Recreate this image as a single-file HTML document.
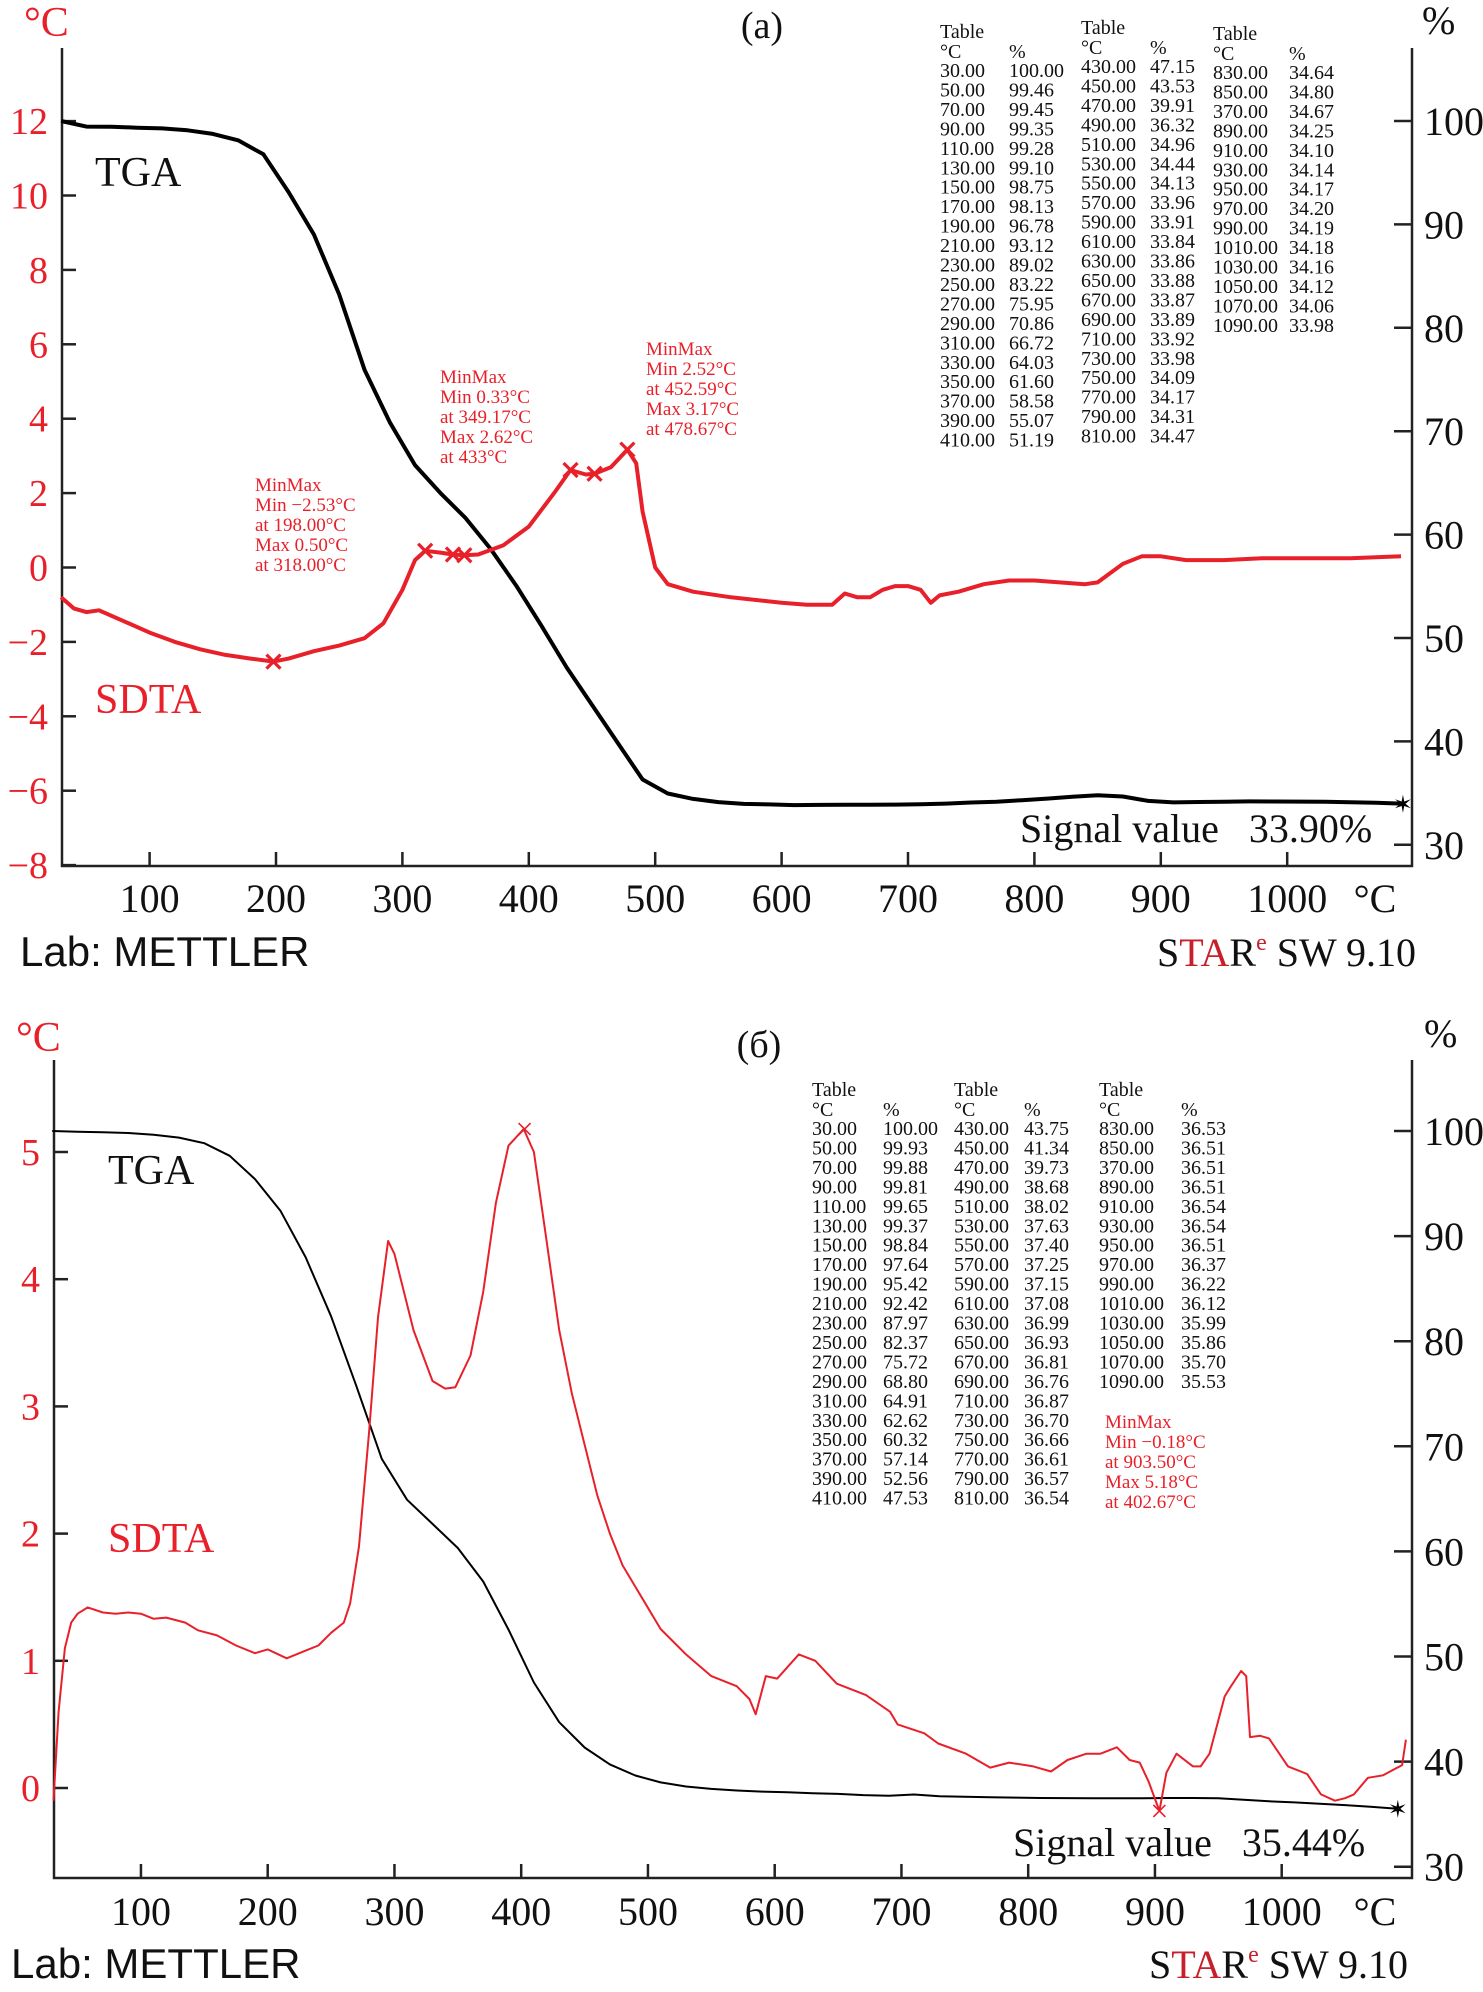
<!DOCTYPE html>
<html><head><meta charset="utf-8"><style>
html,body{margin:0;padding:0;background:#fff;}
svg{display:block;font-family:"Liberation Serif",serif;}
svg text{white-space:pre;}
.tb{font-size:20px;fill:#111;}
.an{font-size:19px;fill:#e8202a;}
</style></head><body>
<svg id="svg" xmlns="http://www.w3.org/2000/svg" width="1483" height="1992" viewBox="0 0 1483 1992">
<g id="gA"></g>
<g id="gB"></g>
</svg>
<script>
// ---------- data: chart (a) ----------
const tgaTempA = [30,50,70,90,110,130,150,170,190,210,230,250,270,290,310,330,350,370,390,410,430,450,470,490,510,530,550,570,590,610,630,650,670,690,710,730,750,770,790,810,830,850,870,890,910,930,950,970,990,1010,1030,1050,1070,1090];
const tgaPctA = [100.00,99.46,99.45,99.35,99.28,99.10,98.75,98.13,96.78,93.12,89.02,83.22,75.95,70.86,66.72,64.03,61.60,58.58,55.07,51.19,47.15,43.53,39.91,36.32,34.96,34.44,34.13,33.96,33.91,33.84,33.86,33.88,33.87,33.89,33.92,33.98,34.09,34.17,34.31,34.47,34.64,34.80,34.67,34.25,34.10,34.14,34.17,34.20,34.19,34.18,34.16,34.12,34.06,33.98];
const tgaLabelA = ["30.00","50.00","70.00","90.00","110.00","130.00","150.00","170.00","190.00","210.00","230.00","250.00","270.00","290.00","310.00","330.00","350.00","370.00","390.00","410.00","430.00","450.00","470.00","490.00","510.00","530.00","550.00","570.00","590.00","610.00","630.00","650.00","670.00","690.00","710.00","730.00","750.00","770.00","790.00","810.00","830.00","850.00","370.00","890.00","910.00","930.00","950.00","970.00","990.00","1010.00","1030.00","1050.00","1070.00","1090.00"];
const sdtaTempA = [30,40,50,60,80,100,120,140,160,180,198,210,230,250,270,285,300,310,318,330,340,349,360,380,400,420,433,445,452,465,478,485,490,500,510,530,560,600,620,640,650,660,670,680,690,700,710,718,725,740,760,780,800,820,840,850,870,885,900,920,950,980,1000,1050,1090];
const sdtaValA = [-0.8,-1.1,-1.2,-1.15,-1.45,-1.75,-2.0,-2.2,-2.35,-2.45,-2.53,-2.45,-2.25,-2.1,-1.9,-1.5,-0.6,0.2,0.45,0.4,0.35,0.33,0.35,0.6,1.1,2.0,2.62,2.5,2.52,2.7,3.17,2.8,1.5,0.0,-0.45,-0.65,-0.8,-0.95,-1.0,-1.0,-0.7,-0.8,-0.8,-0.6,-0.5,-0.5,-0.6,-0.95,-0.75,-0.65,-0.45,-0.35,-0.35,-0.4,-0.45,-0.4,0.1,0.3,0.3,0.2,0.2,0.25,0.25,0.25,0.3];
const markTempA = [198,318,340,349,433,452,478];
const markValA = [-2.53,0.45,0.35,0.33,2.62,2.52,3.17];
const leftTicksA = [-8,-6,-4,-2,0,2,4,6,8,10,12];
const leftTickLabelsA = ["−8","−6","−4","−2","0","2","4","6","8","10","12"];

// ---------- data: chart (б) ----------
const tgaTempB = tgaTempA.slice();
const tgaPctB = [100.00,99.93,99.88,99.81,99.65,99.37,98.84,97.64,95.42,92.42,87.97,82.37,75.72,68.80,64.91,62.62,60.32,57.14,52.56,47.53,43.75,41.34,39.73,38.68,38.02,37.63,37.40,37.25,37.15,37.08,36.99,36.93,36.81,36.76,36.87,36.70,36.66,36.61,36.57,36.54,36.53,36.51,36.51,36.51,36.54,36.54,36.51,36.37,36.22,36.12,35.99,35.86,35.70,35.53];
const tgaLabelB = tgaLabelA.slice();
const sdtaTempB = [31,35,40,45,50,58,70,80,90,100,110,120,135,145,160,175,190,200,215,230,240,250,260,265,272,280,287,295,300,315,330,340,348,360,370,380,390,402,410,420,430,440,450,460,470,480,495,510,530,550,570,580,585,593,602,619,632,649,672,691,697,718,729,751,770,785,804,818,831,846,857,870,880,888,895,903.5,909,917,930,936,943,955,960,968,972,975,983,990,1005,1020,1031,1042,1050,1057,1068,1080,1095,1098];
const sdtaValB = [-0.1,0.6,1.1,1.3,1.37,1.42,1.38,1.37,1.38,1.37,1.33,1.34,1.30,1.24,1.2,1.12,1.06,1.09,1.02,1.08,1.12,1.22,1.30,1.45,1.9,2.8,3.7,4.3,4.2,3.6,3.2,3.14,3.15,3.4,3.9,4.6,5.05,5.18,5.0,4.3,3.6,3.1,2.7,2.3,2.0,1.75,1.5,1.25,1.05,0.88,0.8,0.7,0.58,0.88,0.86,1.05,1.0,0.82,0.73,0.6,0.5,0.43,0.35,0.27,0.16,0.2,0.17,0.13,0.22,0.27,0.27,0.32,0.22,0.2,0.05,-0.18,0.12,0.27,0.17,0.17,0.27,0.72,0.8,0.92,0.88,0.4,0.41,0.39,0.17,0.11,-0.05,-0.1,-0.08,-0.05,0.08,0.1,0.18,0.38];
const markTempB = [402.67,903.5];
const markValB = [5.18,-0.18];
const leftTicksB = [0,1,2,3,4,5];
const leftTickLabelsB = ["0","1","2","3","4","5"];

const xTicks = [100,200,300,400,500,600,700,800,900,1000];
const rightTicks = [30,40,50,60,70,80,90,100];

const NS = "http://www.w3.org/2000/svg";
const RED = "#e8202a";
function mk(parent, tag, attrs, text){
  const e = document.createElementNS(NS, tag);
  for (const k in attrs) e.setAttribute(k, attrs[k]);
  if (text !== undefined) e.textContent = text;
  parent.appendChild(e);
  return e;
}

function drawChart(g, cfg){
  const X = t => cfg.x0 + t*cfg.xs;
  const YL = v => cfg.yL0 - v*cfg.yLs;
  const YR = p => cfg.yR100 + (100-p)*cfg.yRs;
  const xl = cfg.axL, xr = cfg.axR;
  const ax = mk(g,'path',{d:`M${xl},${cfg.axTop} V${cfg.axBot} H${xr} V${cfg.axTop}`,fill:'none',stroke:'#222','stroke-width':2.5});
  
  
  xTicks.forEach(t=>{
    const x = X(t);
    const tk = mk(g,'line',{x1:x,x2:x,y1:cfg.axBot,y2:cfg.axBot-14,stroke:'#222','stroke-width':2.5});
    
    
    const lb = mk(g,'text',{x:x,y:cfg.xLabY,'text-anchor':'middle','font-size':40,fill:'#111'},String(t));
    
    
  });
  const xu = mk(g,'text',{x:1375,y:cfg.xLabY,'text-anchor':'middle','font-size':40,fill:'#111'},'°C');
  
  
  cfg.lt.forEach((v,i)=>{
    const y = YL(v);
    const tk = mk(g,'line',{x1:xl,x2:xl+14,y1:y,y2:y,stroke:'#222','stroke-width':2.5});
    
    
    const lb = mk(g,'text',{x:cfg.lLabX,y:y+13,'text-anchor':'end','font-size':38,fill:RED},cfg.ltl[i]);
    
    
  });
  rightTicks.forEach(p=>{
    const y = YR(p);
    const tk = mk(g,'line',{x1:xr-18,x2:xr,y1:y,y2:y,stroke:'#222','stroke-width':2.5});
    
    
    const lb = mk(g,'text',{x:1424,y:y+14,'font-size':40,fill:'#111'},String(p));
    
    
  });
  let d = cfg.tgaT.map((t,i)=>(i?'L':'M')+X(t).toFixed(1)+','+YR(cfg.tgaP[i]).toFixed(1)).join(' ');
  const tl = mk(g,'path',{d:d,fill:'none',stroke:'#000','stroke-width':cfg.sw,'stroke-linejoin':'round'});
  
  
  const lastT = cfg.tgaT[cfg.tgaT.length-1], lastP = cfg.tgaP[cfg.tgaP.length-1];
  const st = mk(g,'text',{x:X(lastT)+2,y:YR(lastP)+9,'text-anchor':'middle','font-size':24,fill:'#000'},'✶');
  
  
  d = cfg.sT.map((t,i)=>(i?'L':'M')+X(t).toFixed(1)+','+YL(cfg.sV[i]).toFixed(1)).join(' ');
  const sl = mk(g,'path',{d:d,fill:'none',stroke:RED,'stroke-width':cfg.sw,'stroke-linejoin':'round'});
  
  
  cfg.mT.forEach((t,i)=>{
    const x = X(t), y = YL(cfg.mV[i]), r = cfg.mr;
    const m = mk(g,'path',{d:`M${x-r},${y-r}L${x+r},${y+r}M${x-r},${y+r}L${x+r},${y-r}`,stroke:RED,'stroke-width':cfg.sw*0.8});
    
    
  });
  const rows = 20;
  for (let c=0;c<3;c++){
    const cx = cfg.tabX[c], px = cfg.tabP[c], by = cfg.tabY + cfg.tabOff[c];
    const n = c<2 ? rows : 14;
    const h = mk(g,'text',{x:cx,y:by,class:'tb'},'Table');
    
    
    const u1 = mk(g,'text',{x:cx,y:by+20,class:'tb'},'°C');
    
    
    const u2 = mk(g,'text',{x:px,y:by+20,class:'tb'},'%');
    
    
    for (let r=0;r<n;r++){
      const i = c*rows + r;
      const y = by + 39 + r*19.45;
      const a = mk(g,'text',{x:cx,y:y,class:'tb'},cfg.tgaL[i]);
      
      
      const b = mk(g,'text',{x:px,y:y,class:'tb'},cfg.tgaP[i].toFixed(2));
      
      
    }
  }
}

const gA = document.getElementById('gA');
drawChart(gA,{x0:23.2,xs:1.264,yL0:567.5,yLs:37.2,yR100:121,yRs:10.34,axL:62,axR:1412,axTop:48,axBot:866,
  xLabY:912,lLabX:48,lt:leftTicksA,ltl:leftTickLabelsA,tgaT:tgaTempA,tgaP:tgaPctA,tgaL:tgaLabelA,
  sT:sdtaTempA,sV:sdtaValA,mT:markTempA,mV:markValA,sw:4,mr:7,
  tabX:[940,1081,1213],tabP:[1009,1150,1289],tabY:38,tabOff:[0,-4,2]});
const gB = document.getElementById('gB');
drawChart(gB,{x0:14.2,xs:1.2675,yL0:1788,yLs:127.2,yR100:1131,yRs:10.51,axL:54,axR:1412,axTop:1060,axBot:1878,
  xLabY:1925,lLabX:40,lt:leftTicksB,ltl:leftTickLabelsB,tgaT:tgaTempB,tgaP:tgaPctB,tgaL:tgaLabelB,
  sT:sdtaTempB,sV:sdtaValB,mT:markTempB,mV:markValB,sw:2,mr:6,
  tabX:[812,954,1099],tabP:[883,1024,1181],tabY:1096,tabOff:[0,0,0]});

function txt(g,name,x,y,s,attrs){
  const e = mk(g,'text',Object.assign({x:x,y:y},attrs||{}),s);
  
  
  return e;
}
txt(gA,'left-axis-unit',24,36,'°C',{'font-size':42,fill:RED});
txt(gA,'right-axis-unit',1422,34,'%',{'font-size':40,fill:'#111'});
txt(gA,'panel-label',762,38,'(a)',{'font-size':38,fill:'#111','text-anchor':'middle'});
txt(gA,'tga-label',95,186,'TGA',{'font-size':42,fill:'#111'});
txt(gA,'sdta-label',95,713,'SDTA',{'font-size':42,fill:RED});
txt(gA,'signal-value',1020,842,'Signal value   33.90%',{'font-size':40,fill:'#111'});
txt(gA,'lab-label',20,966,'Lab: METTLER',{'font-size':42,fill:'#111','font-family':'Liberation Sans, sans-serif'});
const sa = txt(gA,'software-label',1157,966,'',{'font-size':40,fill:'#111'});
sa.innerHTML = 'S<tspan fill="#c8202a">TA</tspan>R<tspan font-size="24" dy="-16" fill="#c8202a">e</tspan><tspan dy="16"> SW 9.10</tspan>';
[[255,491,['MinMax','Min −2.53°C','at 198.00°C','Max 0.50°C','at 318.00°C']],
 [440,383,['MinMax','Min 0.33°C','at 349.17°C','Max 2.62°C','at 433°C']],
 [646,355,['MinMax','Min 2.52°C','at 452.59°C','Max 3.17°C','at 478.67°C']]].forEach(a=>{
  a[2].forEach((l,i)=>txt(gA,'minmax-annotation',a[0],a[1]+i*20,l,{class:'an'}));
});
txt(gB,'left-axis-unit',16,1051,'°C',{'font-size':42,fill:RED});
txt(gB,'right-axis-unit',1424,1047,'%',{'font-size':40,fill:'#111'});
txt(gB,'panel-label',759,1057,'(б)',{'font-size':38,fill:'#111','text-anchor':'middle'});
txt(gB,'tga-label',108,1184,'TGA',{'font-size':42,fill:'#111'});
txt(gB,'sdta-label',108,1552,'SDTA',{'font-size':42,fill:RED});
txt(gB,'signal-value',1013,1856,'Signal value   35.44%',{'font-size':40,fill:'#111'});
txt(gB,'lab-label',11,1978,'Lab: METTLER',{'font-size':42,fill:'#111','font-family':'Liberation Sans, sans-serif'});
const sb = txt(gB,'software-label',1149,1978,'',{'font-size':40,fill:'#111'});
sb.innerHTML = 'S<tspan fill="#c8202a">TA</tspan>R<tspan font-size="24" dy="-16" fill="#c8202a">e</tspan><tspan dy="16"> SW 9.10</tspan>';
['MinMax','Min −0.18°C','at 903.50°C','Max 5.18°C','at 402.67°C'].forEach((l,i)=>txt(gB,'minmax-annotation',1105,1428+i*20,l,{class:'an'}));
</script>
</body></html>
